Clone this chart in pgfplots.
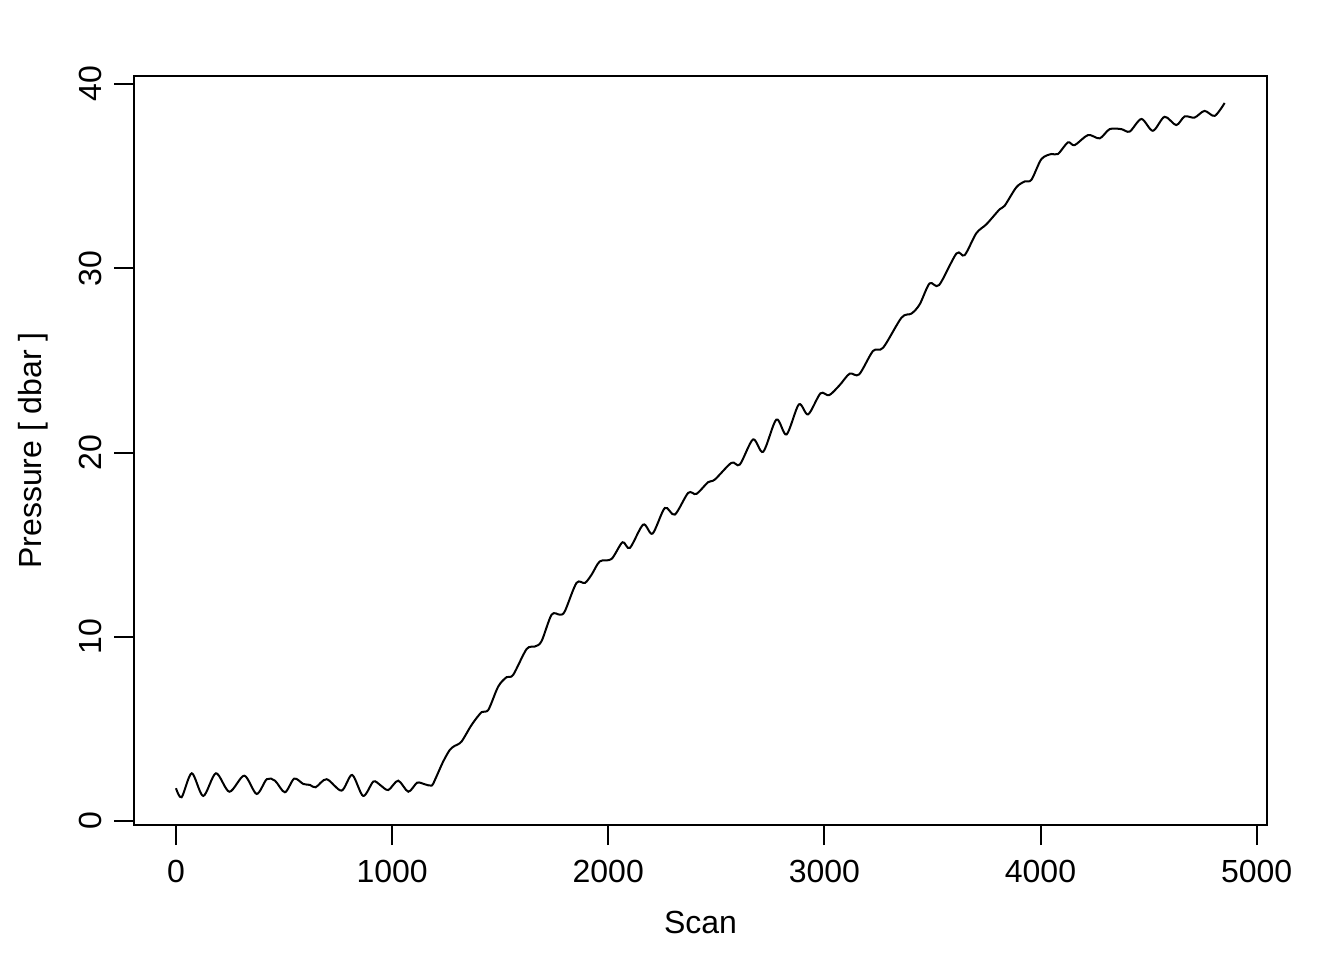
\documentclass[border=0pt]{standalone}
\usepackage{fontspec}
\setmainfont{Liberation Sans}
\usepackage{pgfplots}
\pgfplotsset{compat=1.18}
\begin{document}
\begin{tikzpicture}
\useasboundingbox (0,0) rectangle (504pt,360pt);
\begin{axis}[
  at={(50.25pt,50.625pt)}, anchor=south west,
  scale only axis, width=424.875pt, height=280.875pt,
  xmin=-194.3, xmax=5048, ymin=-0.217, ymax=40.434,
  xtick={0,1000,2000,3000,4000,5000},
  ytick={0,10,20,30,40},
  xtick pos=bottom, ytick pos=left,
  tick align=outside, major tick length=7.5pt,
  tick style={line width=0.75pt, black},
  axis line style={line width=0.75pt},
  /pgf/number format/assume math mode=true,
  /pgf/number format/1000 sep={},
  tick label style={font=\fontsize{12}{14}\selectfont},
  label style={font=\fontsize{12}{14}\selectfont},
  xticklabel style={anchor=base, yshift=-14pt},
  yticklabel style={rotate=90, anchor=base, yshift=4.5pt},
  xlabel={Scan},
  ylabel={Pressure [ dbar ]},
  xlabel style={at={(axis description cs:0.5,0)}, anchor=center, yshift=-36.4pt},
  ylabel style={at={(axis description cs:0,0.5)}, anchor=center, yshift=37.9pt},
]
\addplot[black, line width=0.75pt, smooth, tension=0.5] coordinates {
(0,1.78) (26,1.29) (73,2.59) (126,1.36) (185,2.59) (247,1.59) (316,2.46) (373,1.47)
(420,2.27) (458,2.19) (504,1.56) (547,2.30) (589,2.01) (620,1.96) (646,1.83) (697,2.27)
(766,1.65) (815,2.50) (866,1.36) (913,2.14) (944,1.96) (982,1.68) (1028,2.19) (1075,1.59)
(1116,2.08) (1152,1.99) (1183,1.92) (1198,2.23) (1236,3.22) (1267,3.86) (1290,4.08) (1321,4.31)
(1368,5.22) (1414,5.91) (1445,6.03) (1491,7.30) (1530,7.81) (1560,7.93) (1622,9.33) (1660,9.47)
(1691,9.75) (1738,11.20) (1776,11.20) (1799,11.38) (1853,12.92) (1892,12.92) (1923,13.37) (1961,14.09)
(2015,14.22) (2066,15.13) (2100,14.82) (2162,16.09) (2205,15.60) (2262,16.99) (2308,16.63) (2370,17.81)
(2408,17.75) (2462,18.39) (2493,18.53) (2570,19.44) (2609,19.35) (2670,20.71) (2717,20.04) (2778,21.79)
(2825,20.98) (2882,22.61) (2925,22.07) (2982,23.21) (3022,23.11) (3071,23.66) (3117,24.28) (3161,24.24)
(3225,25.51) (3272,25.69) (3357,27.32) (3403,27.54) (3441,28.04) (3487,29.18) (3531,29.09) (3611,30.80)
(3649,30.71) (3703,31.90) (3750,32.39) (3811,33.20) (3834,33.39) (3888,34.39) (3927,34.71) (3958,34.80)
(4004,35.92) (4050,36.20) (4081,36.20) (4127,36.83) (4158,36.68) (4220,37.23) (4274,37.05) (4320,37.55)
(4374,37.55) (4413,37.42) (4467,38.10) (4520,37.46) (4574,38.22) (4628,37.77) (4667,38.24) (4713,38.18)
(4759,38.54) (4806,38.27) (4852,38.97)
};
\end{axis}
\end{tikzpicture}
\end{document}
